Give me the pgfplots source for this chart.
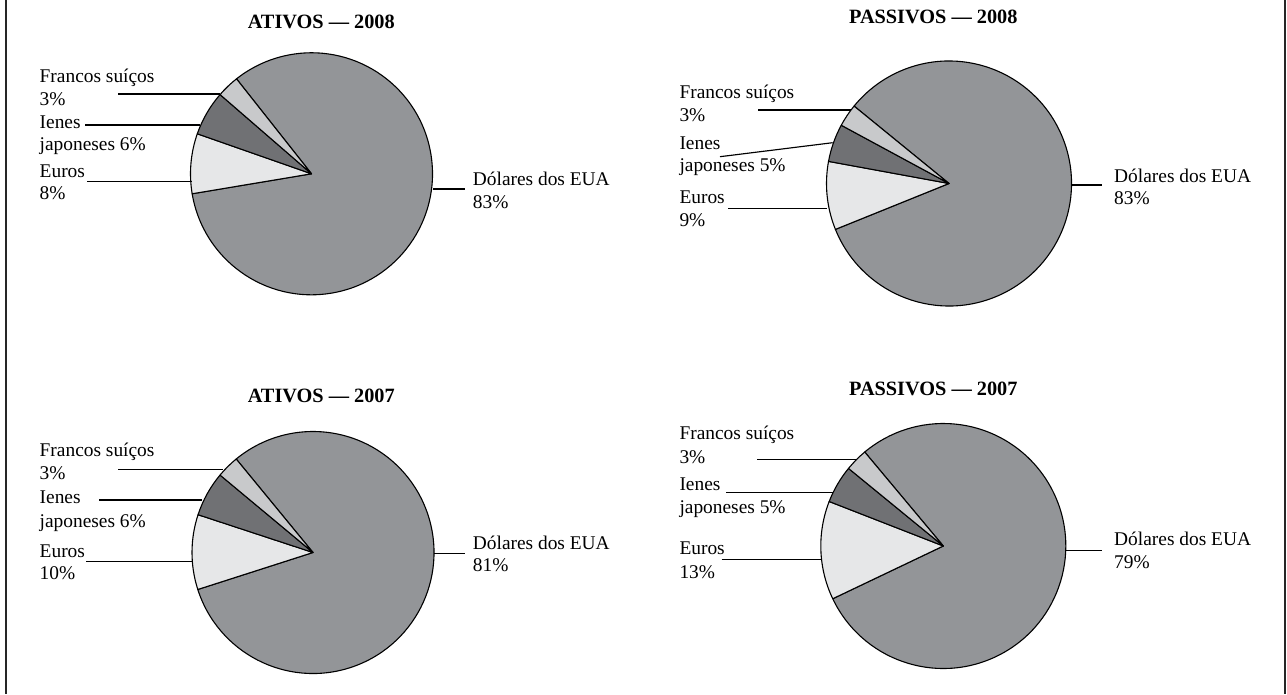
\documentclass[border=0pt]{standalone}
\usepackage{pgfplots}
\pgfplotsset{compat=1.18}
\usepackage{fontspec}
\setmainfont{Liberation Serif}
\definecolor{dolc}{HTML}{939598}
\definecolor{frac}{HTML}{C8C9CB}
\definecolor{ienc}{HTML}{707174}
\definecolor{eurc}{HTML}{E6E7E8}
% one slice: cx cy r angle1 angle2 colour
\newcommand{\pieslice}[6]{%
  \draw[fill=#6, line width=1.1pt, line join=round]
    (axis cs:#1,-#2) -- ++({#4}:#3pt) arc[start angle={#4}, end angle={#5}, radius=#3pt] -- cycle;}
% a pie: cx cy r boundary(euro/dollar) dollars francos ienes euros
\newcommand{\pie}[8]{%
  \pieslice{#1}{#2}{#3}{#4}{#4+3.6*#5}{dolc}
  \pieslice{#1}{#2}{#3}{#4-3.6*#8}{#4}{eurc}
  \pieslice{#1}{#2}{#3}{#4-3.6*(#8+#7)}{#4-3.6*#8}{ienc}
  \pieslice{#1}{#2}{#3}{#4-3.6*(#8+#7+#6)}{#4-3.6*(#8+#7)}{frac}}
\newcommand{\lbl}[3]{\node[anchor=base west, inner sep=0pt, yshift=-6.6pt] at (axis cs:#1,-#2) {#3};}
\newcommand{\ttl}[3]{\node[anchor=base, inner sep=0pt, yshift=-7pt, font=\fontsize{20.3pt}{24pt}\selectfont\bfseries] at (axis cs:#1,-#2) {#3};}
\newcommand{\lead}[4]{\draw[line width=1.15pt] (axis cs:#1,-#2) -- (axis cs:#3,-#4);}
\begin{document}
\fontsize{19.4pt}{22.5pt}\selectfont
\begin{tikzpicture}
\path[use as bounding box] (0,0) rectangle (1287pt,694pt);
\begin{axis}[at={(0,0)}, anchor=south west, scale only axis,
  width=1287pt, height=694pt, xmin=0, xmax=1287, ymin=-694, ymax=0,
  hide axis, clip=false]
% frame
\draw[line width=1.3pt, black!85] (axis cs:6,0) -- (axis cs:6,-694);
\draw[line width=1.3pt, black!85] (axis cs:1285,0) -- (axis cs:1285,-694);
% ---------- ATIVOS 2008 ----------
\pie{311.5}{173.8}{121}{189.5}{83}{3}{6}{8}
\ttl{321.3}{21.7}{ATIVOS — 2008}
\lbl{39.5}{76}{Francos suíços}
\lbl{39.5}{98.7}{3\%}
\lbl{39.5}{121.7}{Ienes}
\lbl{39.5}{144}{japoneses 6\%}
\lbl{39.5}{171}{Euros}
\lbl{39.5}{192.7}{8\%}
\lead{118}{94}{220}{94}
\lead{85}{125}{200}{125}
\lead{87}{181.7}{191.7}{181.7}
\lead{433}{189}{465}{189}
\lbl{472.7}{179.3}{Dólares dos EUA}
\lbl{472.7}{201.7}{83\%}
% ---------- PASSIVOS 2008 ----------
\pie{949}{183.5}{122.5}{202}{83}{3}{5}{9}
\ttl{933.3}{16.7}{PASSIVOS — 2008}
\lbl{679.3}{91.7}{Francos suíços}
\lbl{679.3}{115}{3\%}
\lbl{679.3}{143.3}{Ienes}
\lbl{679.3}{165}{japoneses 5\%}
\lbl{679.3}{196.7}{Euros}
\lbl{679.3}{220}{9\%}
\lead{758.3}{110}{850.7}{110}
\lead{720}{156.7}{832.7}{142.7}
\lead{728.3}{208.3}{827.3}{208.3}
\lead{1071}{185}{1101.7}{185}
\lbl{1114}{176}{Dólares dos EUA}
\lbl{1114}{198.3}{83\%}
% ---------- ATIVOS 2007 ----------
\pie{313}{552.5}{121}{197.8}{81}{3}{6}{10}
\ttl{321.3}{395}{ATIVOS — 2007}
\lbl{39.5}{450}{Francos suíços}
\lbl{39.5}{473.3}{3\%}
\lbl{39.5}{497.3}{Ienes}
\lbl{39.5}{520.7}{japoneses 6\%}
\lbl{39.5}{551}{Euros}
\lbl{39.5}{573.3}{10\%}
\lead{118.3}{469.3}{222.7}{469.3}
\lead{99.3}{500}{201.7}{500}
\lead{86}{561.7}{191.7}{561.7}
\lead{434}{553.3}{465}{553.3}
\lbl{472.7}{542.7}{Dólares dos EUA}
\lbl{472.7}{565}{81\%}
% ---------- PASSIVOS 2007 ----------
\pie{943.3}{546}{122.5}{205.5}{79}{3}{5}{13}
\ttl{933.3}{388.3}{PASSIVOS — 2007}
\lbl{679.3}{433.3}{Francos suíços}
\lbl{679.3}{457.3}{3\%}
\lbl{679.3}{484}{Ienes}
\lbl{679.3}{506.7}{japoneses 5\%}
\lbl{679.3}{548.3}{Euros}
\lbl{679.3}{571.7}{13\%}
\lead{757.3}{459.3}{856.7}{459.3}
\lead{726}{492.7}{832.7}{492.7}
\lead{721.7}{559.3}{821.7}{559.3}
\lead{1065.8}{550.7}{1101.7}{550.7}
\lbl{1114}{539.3}{Dólares dos EUA}
\lbl{1114}{561.7}{79\%}
\end{axis}
\end{tikzpicture}
\end{document}
